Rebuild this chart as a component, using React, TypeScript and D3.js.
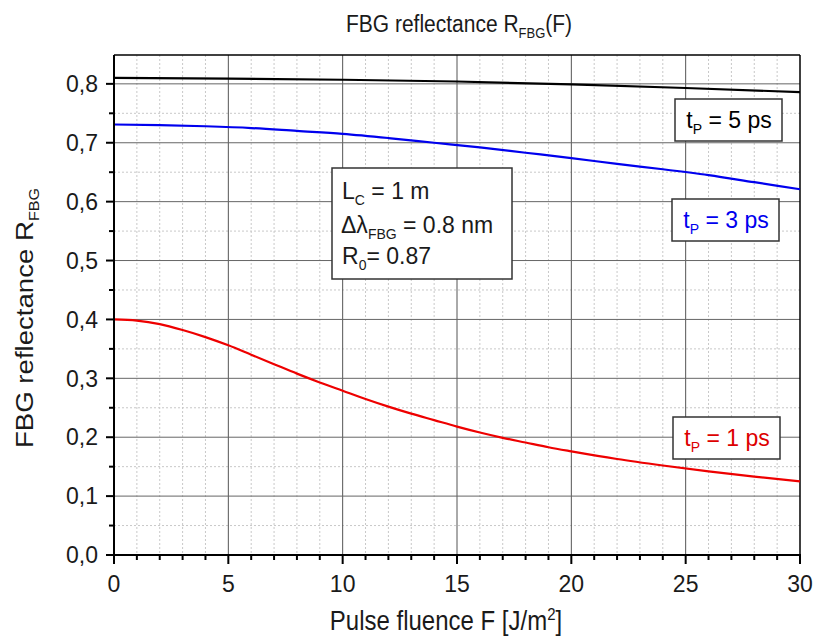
import React from "react";
import * as d3 from "d3";

const xTicks = [0, 5, 10, 15, 20, 25, 30];
const yTicks = [0, 0.1, 0.2, 0.3, 0.4, 0.5, 0.6, 0.7, 0.8];
const yTickLabels = ["0,0", "0,1", "0,2", "0,3", "0,4", "0,5", "0,6", "0,7", "0,8"];

const f5 = [0, 5, 10, 15, 20, 25, 30];
const r5 = [0.810, 0.809, 0.807, 0.804, 0.799, 0.793, 0.786];

const f3 = [0, 2, 4, 6, 8, 10, 12, 14, 16, 18, 20, 22, 24, 26, 28, 30];
const r3 = [0.731, 0.730, 0.728, 0.725, 0.720, 0.715, 0.708, 0.700, 0.692, 0.683, 0.674, 0.664, 0.655, 0.645, 0.633, 0.621];

const f1 = [0, 1, 2, 3, 4, 5, 6, 7, 8, 9, 10, 11, 12, 13, 14, 15, 16, 17, 18, 19, 20, 22, 24, 26, 28, 30];
const r1 = [0.400, 0.398, 0.392, 0.382, 0.370, 0.356, 0.340, 0.324, 0.308, 0.293, 0.279, 0.265, 0.252, 0.240, 0.229, 0.218, 0.208, 0.199, 0.191, 0.183, 0.176, 0.163, 0.152, 0.142, 0.133, 0.125];

const seriesNames = ["5", "3", "1"];

export default function App() {
  const W = 821, H = 637;
  const left = 114, right = 800, top = 55, bottom = 555;
  const x = d3.scaleLinear().domain([0, 30]).range([left, right]);
  const y = d3.scaleLinear().domain([0, 0.849]).range([bottom, top]);
  const line = d3.line<[number, number]>().x(d => x(d[0])).y(d => y(d[1])).curve(d3.curveMonotoneX);
  const minorX = d3.range(0, 31, 1).filter(v => v % 5 !== 0);
  const minorY = d3.range(0.05, 0.85, 0.1);
  const font = "'Liberation Sans', Arial, sans-serif";
  const txt = "#1a1a1a";
  const series = [
    { f: f5, r: r5, color: "#000000" },
    { f: f3, r: r3, color: "#0000ee" },
    { f: f1, r: r1, color: "#ee0000" },
  ];
  const labels = [
    { name: seriesNames[0], x0: 675, y0: 99, color: "#000" },
    { name: seriesNames[1], x0: 672, y0: 199, color: "#0000ee" },
    { name: seriesNames[2], x0: 673, y0: 417, color: "#dd0000" },
  ];
  return (
    <svg width={W} height={H} style={{ position: "absolute", left: 0, top: 0, background: "#fff" }} fontFamily={font}>
      <rect x={0} y={0} width={W} height={H} fill="#fff" />
      {minorX.map(v => (
        <line key={"mx" + v} x1={x(v)} x2={x(v)} y1={top} y2={bottom} stroke="#c8c8c8" strokeDasharray="2,2" strokeWidth={1} />
      ))}
      {minorY.map(v => (
        <line key={"my" + v} x1={left} x2={right} y1={y(v)} y2={y(v)} stroke="#c8c8c8" strokeDasharray="2,2" strokeWidth={1} />
      ))}
      {xTicks.slice(1, -1).map(v => (
        <line key={"gx" + v} x1={x(v)} x2={x(v)} y1={top} y2={bottom} stroke="#555" strokeWidth={1} />
      ))}
      {yTicks.slice(1).map(v => (
        <line key={"gy" + v} x1={left} x2={right} y1={y(v)} y2={y(v)} stroke="#666" strokeWidth={1} />
      ))}
      <line x1={left} x2={right} y1={top} y2={top} stroke="#000" strokeWidth={1.5} />
      <line x1={right} x2={right} y1={top} y2={bottom} stroke="#000" strokeWidth={1.5} />
      {series.map((s, i) => (
        <path key={i} d={line(s.f.map((v, j) => [v, s.r[j]]) as [number, number][]) || ""} fill="none" stroke={s.color} strokeWidth={2.2} />
      ))}
      <line x1={left} x2={left} y1={top} y2={bottom + 1} stroke="#000" strokeWidth={2} />
      <line x1={left - 1} x2={right + 1} y1={bottom} y2={bottom} stroke="#000" strokeWidth={2} />
      {yTicks.map((v, i) => (
        <g key={"yt" + v}>
          <line x1={left - 8} x2={left} y1={y(v)} y2={y(v)} stroke="#000" strokeWidth={2} />
          <text x={left - 16} y={y(v)} dy="0.36em" textAnchor="end" fontSize={23} fill={txt}>{yTickLabels[i]}</text>
        </g>
      ))}
      {minorY.map(v => (
        <line key={"ymt" + v} x1={left - 5} x2={left} y1={y(v)} y2={y(v)} stroke="#000" strokeWidth={2} />
      ))}
      {xTicks.map(v => (
        <g key={"xt" + v}>
          <line x1={x(v)} x2={x(v)} y1={bottom} y2={bottom + 9} stroke="#000" strokeWidth={2} />
          <text x={x(v)} y={592} textAnchor="middle" fontSize={23} fill={txt}>{v}</text>
        </g>
      ))}
      {minorX.map(v => (
        <line key={"xmt" + v} x1={x(v)} x2={x(v)} y1={bottom} y2={bottom + 5} stroke="#000" strokeWidth={2} />
      ))}
      <g transform="translate(459, 32) scale(1, 1.12)">
        <text x={0} y={0} textAnchor="middle" fontSize={21} fill={txt}>
          FBG reflectance R<tspan fontSize={13} dy={5}>FBG</tspan><tspan dy={-5}>(F)</tspan>
        </text>
      </g>
      <g transform="translate(446, 630) scale(1, 1.12)">
        <text x={0} y={0} textAnchor="middle" fontSize={24} fill={txt}>
          Pulse fluence F [J/m<tspan fontSize={15} dy={-9}>2</tspan><tspan dy={9}>]</tspan>
        </text>
      </g>
      <g transform="translate(33, 318) rotate(-90) scale(1.15, 1)">
        <text x={0} y={0} textAnchor="middle" fontSize={24} fill={txt}>
          FBG reflectance R<tspan fontSize={14} dy={6}>FBG</tspan>
        </text>
      </g>
      <rect x={332} y={168} width={180} height={111} fill="#fff" stroke="#333" strokeWidth={1.5} />
      <text x={342} y={199} fontSize={23} fill={txt}>L<tspan fontSize={14} dy={6}>C</tspan><tspan dy={-6}> = 1 m</tspan></text>
      <text x={341} y={233} fontSize={23} fill={txt}>Δλ<tspan fontSize={14} dy={6}>FBG</tspan><tspan dy={-6}> = 0.8 nm</tspan></text>
      <text x={342} y={264} fontSize={23} fill={txt}>R<tspan fontSize={14} dy={6}>0</tspan><tspan dy={-6}>= 0.87</tspan></text>
      {labels.map((l, i) => (
        <g key={"lb" + i}>
          <rect x={l.x0} y={l.y0} width={107} height={42} fill="#fff" stroke="#333" strokeWidth={1.5} />
          <text x={l.x0 + 54} y={l.y0 + 29} textAnchor="middle" fontSize={23} fill={l.color}>
            t<tspan fontSize={14} dy={6}>P</tspan><tspan dy={-6}> = {l.name} ps</tspan>
          </text>
        </g>
      ))}
    </svg>
  );
}
